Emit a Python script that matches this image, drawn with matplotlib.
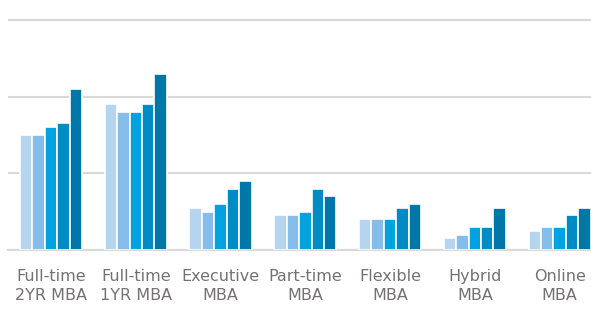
import matplotlib
matplotlib.use("Agg")
import matplotlib.pyplot as plt
import numpy as np

CATEGORIES = ["Full-time\n2YR MBA", "Full-time\n1YR MBA", "Executive\nMBA",
              "Part-time\nMBA", "Flexible\nMBA", "Hybrid\nMBA", "Online\nMBA"]
SERIES = [
    [30, 38, 11, 9, 8, 3, 5],
    [30, 36, 10, 9, 8, 4, 6],
    [32, 36, 12, 10, 8, 6, 6],
    [33, 38, 16, 16, 11, 6, 9],
    [42, 46, 18, 14, 12, 11, 11],
]
COLORS = ["#b5d5ef", "#86bde8", "#00a3e0", "#008bc4", "#0077a8"]


def main():
    fig = plt.figure(figsize=(5.91, 3.09), dpi=100)
    ax = fig.add_axes([8 / 591, 59 / 309, 583 / 591, 237.7 / 309])

    x = np.arange(len(CATEGORIES))
    slot = 0.1465
    for i, (vals, c) in enumerate(zip(SERIES, COLORS)):
        ax.bar(x + (i - 2) * slot, vals, width=slot, color=c,
               edgecolor="white", linewidth=1.2, zorder=3)

    ax.set_xlim(-0.507, 6.37)
    ax.set_ylim(0, 62)
    ax.set_yticks([0, 20, 40, 60])
    ax.yaxis.grid(True, color="#d9d9d9", linewidth=1.5, zorder=0)
    ax.tick_params(axis="y", left=False, labelleft=False)
    ax.tick_params(axis="x", bottom=False, pad=10)
    ax.set_xticks(x)
    ax.set_xticklabels(CATEGORIES, fontsize=11.5, color="#767171",
                       linespacing=1.35)
    for s in ["top", "left", "right"]:
        ax.spines[s].set_visible(False)
    ax.spines["bottom"].set_color("#d9d9d9")
    ax.spines["bottom"].set_linewidth(1.5)

    fig.savefig("out.png", dpi=100)


if __name__ == "__main__":
    main()
